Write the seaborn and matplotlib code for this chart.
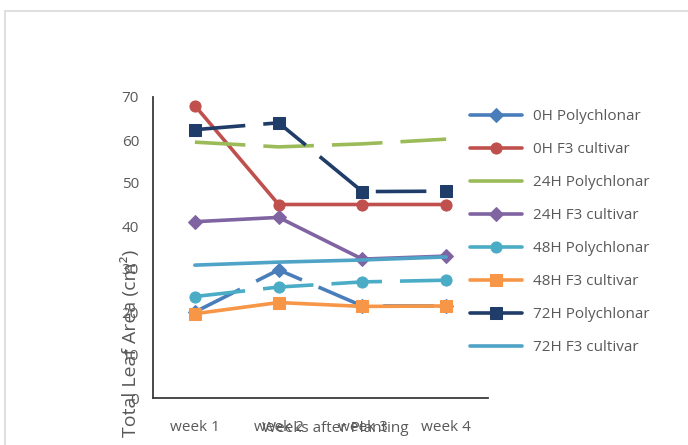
import matplotlib
matplotlib.use("Agg")
import matplotlib.pyplot as plt
from matplotlib.patches import Rectangle
import seaborn as sns
import pandas as pd

weeks = ["week 1", "week 2", "week 3", "week 4"]

oh_polychlonar = [20.0, 29.8, 21.4, 21.4]
oh_f3_cultivar = [68.0, 45.0, 45.0, 45.0]
h24_polychlonar = [59.5, 58.4, 59.1, 60.2]
h24_f3_cultivar = [41.0, 42.0, 32.3, 33.0]
h48_polychlonar = [23.6, 25.8, 27.0, 27.4]
h48_f3_cultivar = [19.6, 22.2, 21.3, 21.4]
h72_polychlonar = [62.4, 64.0, 48.0, 48.1]
h72_f3_cultivar = [30.9, 31.6, 32.1, 32.8]

series_names = ["0H Polychlonar", "0H F3 cultivar", "24H Polychlonar", "24H F3 cultivar",
                "48H Polychlonar", "48H F3 cultivar", "72H Polychlonar", "72H F3 cultivar"]
series_values = [oh_polychlonar, oh_f3_cultivar, h24_polychlonar, h24_f3_cultivar,
                 h48_polychlonar, h48_f3_cultivar, h72_polychlonar, h72_f3_cultivar]

colors = ["#4a7ebb", "#c0504d", "#9bbb59", "#8064a2",
          "#4bacc6", "#f79646", "#1f3d68", "#4fa3c7"]
markers = ["D", "o", None, "D", "o", "s", "s", None]
dashed = [True, False, True, False, True, False, True, False]

sns.set_theme(style="white")
plt.rcParams["font.family"] = ["Open Sans", "DejaVu Sans"]
text_color = "#595959"

fig = plt.figure(figsize=(6.88, 4.45), dpi=100)
fig.patch.set_facecolor("white")
ax = fig.add_axes([153 / 688, 1 - 398 / 445, 335 / 688, 301 / 445])

dash_style = (0, (14, 5))
for name, vals, col, mk, dsh in zip(series_names, series_values, colors, markers, dashed):
    df = pd.DataFrame({"week": weeks, "area": vals})
    sns.lineplot(data=df, x="week", y="area", ax=ax, color=col, label=name,
                 marker=mk if mk else "", markersize=8 if mk != "D" else 7,
                 markeredgecolor=col, markerfacecolor=col,
                 linewidth=2.6, linestyle=dash_style if dsh else "-",
                 sort=False)

ax.set_xlim(-0.5, 3.5)
ax.set_ylim(0, 70)
ax.set_yticks(range(0, 71, 10))
for s in ["top", "right"]:
    ax.spines[s].set_visible(False)
for s in ["left", "bottom"]:
    ax.spines[s].set_color("#3a3a3a")
    ax.spines[s].set_linewidth(1.3)
ax.tick_params(axis="both", length=0, colors=text_color, labelsize=11)
ax.tick_params(axis="y", pad=10)
ax.tick_params(axis="x", pad=16)

ax.set_xlabel("Weeks after Planting", fontsize=11, color=text_color)
ax.set_ylabel("Total Leaf Area (cm²)", fontsize=14, color=text_color)
ax.xaxis.set_label_coords(0.545, -0.10)
ax.yaxis.set_label_coords(-0.066, 0.18)
ax.xaxis.label.set_va("center")
ax.yaxis.label.set_va("center")

leg = ax.legend(loc="upper left", bbox_to_anchor=(470 / 688, 1 - 109 / 445),
                bbox_transform=fig.transFigure, frameon=False, fontsize=11,
                handlelength=3.4, handletextpad=0.75, labelspacing=1.18,
                borderaxespad=0, borderpad=0, labelcolor=text_color, numpoints=1)
for line in leg.get_lines():
    line.set_linestyle("-")

# outer chart frame
fig.patches.append(Rectangle((4.5 / 688, -0.2), 1.2, 1 - 10.5 / 445 + 0.2,
                             transform=fig.transFigure, fill=False,
                             edgecolor="#d9d9d9", linewidth=1.2))

fig.savefig("out.png", dpi=100)
